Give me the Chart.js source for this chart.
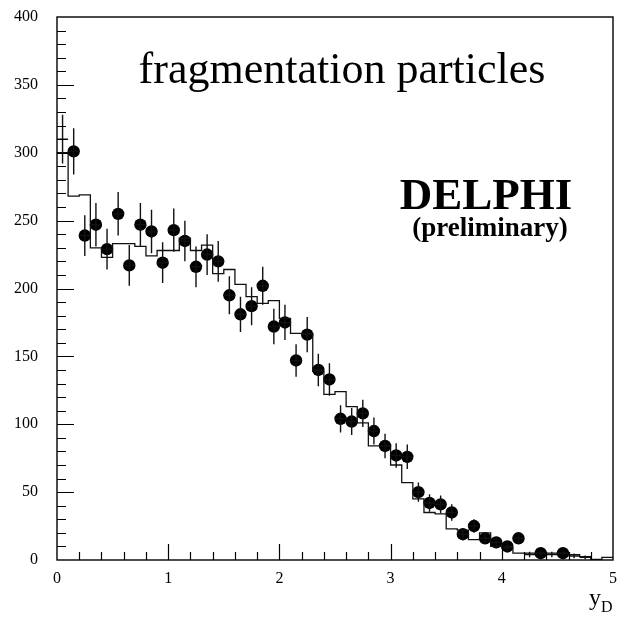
<!DOCTYPE html>
<html>
<head>
<meta charset="utf-8">
<script src="https://cdn.jsdelivr.net/npm/chart.js@4/dist/chart.umd.min.js"></script>
<style>
  html, body { margin: 0; padding: 0; background: #fff; }
  #wrap { width: 632px; height: 617px; }
</style>
</head>
<body>
<div id="wrap"><canvas id="yChart"></canvas></div>
<script>
// measured points (bin centres, counts, errors)
const pointX = [0.05, 0.15, 0.25, 0.35, 0.45, 0.55, 0.65, 0.75, 0.85, 0.95,
                1.05, 1.15, 1.25, 1.35, 1.45, 1.55, 1.65, 1.75, 1.85, 1.95,
                2.05, 2.15, 2.25, 2.35, 2.45, 2.55, 2.65, 2.75, 2.85, 2.95,
                3.05, 3.15, 3.25, 3.35, 3.45, 3.55, 3.65, 3.75, 3.85, 3.95,
                4.05, 4.15, 4.25, 4.35, 4.45, 4.55, 4.65, 4.75];
const pointY = [310, 301, 239, 247, 229, 255, 217, 247, 242, 219,
                243, 235, 216, 225, 220, 195, 181, 187, 202, 172,
                175, 147, 166, 140, 133, 104, 102, 108, 95, 84,
                77, 76, 50, 42, 41, 35, 19, 25, 16, 13,
                10, 16, 4, 5, 4, 5, 3, 2];
const pointErr = [18, 17, 15, 16, 15, 16, 15, 16, 16, 15,
                  16, 15, 15, 15, 15, 14, 13, 14, 14, 13,
                  13, 12, 13, 12, 12, 10, 10, 10, 10, 9,
                  9, 9, 7, 6.5, 6.5, 6, 4.5, 5, 4, 3.5,
                  3, 4, 2, 2.2, 2, 2.2, 1.7, 1.4];
// points drawn as a bare cross, without the round marker
const crossOnly = [0, 42, 44, 46, 47];

// simulation histogram (left bin edges, contents)
const histEdges = [0, 0.1, 0.2, 0.3, 0.4, 0.5, 0.6, 0.7, 0.8, 0.9,
                   1.0, 1.1, 1.2, 1.3, 1.4, 1.5, 1.6, 1.7, 1.8, 1.9,
                   2.0, 2.1, 2.2, 2.3, 2.4, 2.5, 2.6, 2.7, 2.8, 2.9,
                   3.0, 3.1, 3.2, 3.3, 3.4, 3.5, 3.6, 3.7, 3.8, 3.9,
                   4.0, 4.1, 4.2, 4.3, 4.4, 4.5, 4.6, 4.7, 4.8, 4.9, 5.0];
const histY = [300, 268, 269, 230, 223, 233, 233, 231, 224, 228,
               228, 237, 228, 232, 211, 214, 203, 194, 189, 191,
               178, 167, 167, 139, 122, 124, 113, 101, 84, 84,
               70, 57, 45, 35, 34, 23, 22, 15, 20, 10,
               9, 5, 5, 5, 5, 5, 4, 2.5, 0.5, 2];

const binHalf = 0.05;
const serif = 'Liberation Serif';

const histData = histEdges.map((x, i) => ({ x: x, y: histY[Math.min(i, histY.length - 1)] }));
const pointData = pointX.map((x, i) => ({ x: x, y: pointY[i] }));

// error bars under the markers
const errorBars = {
  id: 'errorBars',
  afterDatasetDraw(chart, args) {
    if (args.index !== 0) return;
    const { ctx, scales: { x, y } } = chart;
    ctx.save();
    ctx.strokeStyle = '#111';
    ctx.lineWidth = 1.4;
    pointData.forEach((p, i) => {
      const px = x.getPixelForValue(p.x);
      ctx.beginPath();
      ctx.moveTo(px, y.getPixelForValue(p.y - pointErr[i]));
      ctx.lineTo(px, y.getPixelForValue(p.y + pointErr[i]));
      ctx.moveTo(x.getPixelForValue(p.x - binHalf), y.getPixelForValue(p.y));
      ctx.lineTo(x.getPixelForValue(p.x + binHalf), y.getPixelForValue(p.y));
      ctx.stroke();
    });
    ctx.restore();
  }
};

// frame and inward tick marks
const frameTicks = {
  id: 'frameTicks',
  afterDraw(chart) {
    const { ctx, chartArea: a, scales: { x, y } } = chart;
    ctx.save();
    ctx.strokeStyle = '#000';
    ctx.lineWidth = 1.4;
    ctx.strokeRect(a.left, a.top, a.right - a.left, a.bottom - a.top);
    ctx.lineWidth = 1.2;
    ctx.beginPath();
    for (let v = 10; v < 400; v += 10) {
      const py = Math.round(y.getPixelForValue(v)) + 0.5;
      const len = v % 50 === 0 ? 17 : 9;
      ctx.moveTo(a.left, py);
      ctx.lineTo(a.left + len, py);
    }
    for (let k = 1; k < 25; k++) {
      const px = Math.round(x.getPixelForValue(k * 0.2)) + 0.5;
      const len = k % 5 === 0 ? 16 : 8;
      ctx.moveTo(px, a.bottom);
      ctx.lineTo(px, a.bottom - len);
    }
    ctx.stroke();
    ctx.restore();
  }
};

// captions
const captions = {
  id: 'captions',
  afterDraw(chart) {
    const ctx = chart.ctx;
    ctx.save();
    ctx.fillStyle = '#000';
    ctx.textAlign = 'center';
    ctx.textBaseline = 'alphabetic';
    ctx.font = '44px "' + serif + '"';
    ctx.fillText('fragmentation particles', 342, 83);
    ctx.font = 'bold 45px "' + serif + '"';
    ctx.fillText('DELPHI', 486, 209);
    ctx.font = 'bold 27px "' + serif + '"';
    ctx.fillText('(preliminary)', 490, 236);
    ctx.textAlign = 'left';
    ctx.font = '24px "' + serif + '"';
    ctx.fillText('y', 589, 605);
    ctx.font = '16px "' + serif + '"';
    ctx.fillText('D', 601, 612);
    ctx.restore();
  }
};

const yChart = new Chart(document.getElementById('yChart'), {
  type: 'scatter',
  data: {
    datasets: [{
      type: 'line',
      label: 'simulation',
      data: histData,
      stepped: 'before',
      borderColor: '#111',
      borderWidth: 1.3,
      pointRadius: 0,
      fill: false
    }, {
      label: 'data',
      data: pointData,
      pointRadius: ctx => crossOnly.includes(ctx.dataIndex) ? 0 : 6.2,
      pointBackgroundColor: '#000',
      pointBorderWidth: 0
    }]
  },
  options: {
    responsive: true,
    maintainAspectRatio: false,
    animation: false,
    layout: { padding: { left: 0, right: 19, top: 17, bottom: 0 } },
    plugins: {
      legend: { display: false },
      tooltip: { enabled: false }
    },
    scales: {
      x: {
        type: 'linear',
        min: 0,
        max: 5,
        afterFit: s => { s.height = 57; },
        grid: { display: false, drawTicks: false },
        border: { display: false },
        ticks: { stepSize: 1, padding: 9, color: '#000', font: { family: serif, size: 16 } }
      },
      y: {
        min: 0,
        max: 400,
        afterFit: s => { s.width = 57; s.paddingTop = 0; s.paddingBottom = 0; },
        grid: { display: false, drawTicks: false },
        border: { display: false },
        ticks: { stepSize: 50, padding: 19, color: '#000', font: { family: serif, size: 16 } }
      }
    }
  },
  plugins: [errorBars, frameTicks, captions]
});
</script>
</body>
</html>
